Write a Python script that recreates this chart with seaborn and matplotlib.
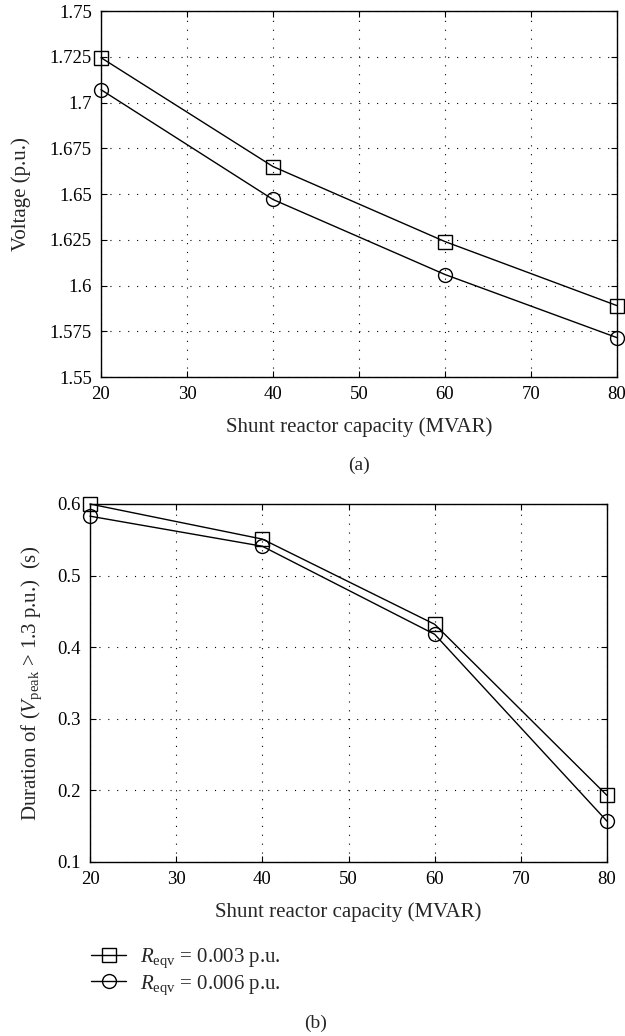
import matplotlib
matplotlib.use("Agg")
import matplotlib.pyplot as plt
import seaborn as sns
import pandas as pd

# datos
capacidad = [20, 40, 60, 80]
voltaje_003 = [1.7245, 1.665, 1.624, 1.589]
voltaje_006 = [1.707, 1.647, 1.606, 1.5715]
duracion_003 = [0.600, 0.551, 0.432, 0.193]
duracion_006 = [0.583, 0.541, 0.418, 0.157]
lab1 = r"$R_{\mathrm{eqv}}$ = 0.003 p.u."
lab2 = r"$R_{\mathrm{eqv}}$ = 0.006 p.u."

dfa = pd.DataFrame({"cap": capacidad * 2, "val": voltaje_003 + voltaje_006,
                    "serie": [lab1] * 4 + [lab2] * 4})
dfb = pd.DataFrame({"cap": capacidad * 2, "val": duracion_003 + duracion_006,
                    "serie": [lab1] * 4 + [lab2] * 4})

sns.set_style("ticks")
plt.rcParams['font.family'] = ['Liberation Serif', 'DejaVu Serif']
plt.rcParams['mathtext.fontset'] = 'custom'
plt.rcParams['mathtext.rm'] = 'Liberation Serif'
plt.rcParams['mathtext.it'] = 'Liberation Serif:italic'

W, H = 625, 1036
fig = plt.figure(figsize=(6.25, 10.36), dpi=100)
ax1 = fig.add_axes([101 / W, 1 - 377 / H, 516 / W, 366 / H])
ax2 = fig.add_axes([90 / W, 1 - 862 / H, 517 / W, 358 / H])

kw = dict(x="cap", y="val", style="serie", markers={lab1: "s", lab2: "o"},
          dashes=False, color="k", lw=1.0, markersize=10,
          markerfacecolor="none", markeredgecolor="k", markeredgewidth=1.0)

sns.lineplot(data=dfa, ax=ax1, legend=False, **kw)
sns.lineplot(data=dfb, ax=ax2, **kw)

for ax in (ax1, ax2):
    ax.set_xlim(20, 80)
    ax.set_xticks([20, 30, 40, 50, 60, 70, 80])
    ax.grid(True, color="k", linestyle=(0, (1, 7)), linewidth=0.8)
    ax.tick_params(direction="in", top=True, right=True, length=4.5, width=0.8,
                   labelsize=13.5, pad=6.5, colors="k")
    for s in ax.spines.values():
        s.set_linewidth(1.0)
        s.set_color("k")
    ax.set_xlabel("Shunt reactor capacity (MVAR)", fontsize=15)
    for l in ax.lines:
        l.set_clip_on(False)

ax1.set_ylim(1.55, 1.75)
ax1.set_yticks([1.55, 1.575, 1.6, 1.625, 1.65, 1.675, 1.7, 1.725, 1.75])
ax1.set_yticklabels(["1.55", "1.575", "1.6", "1.625", "1.65", "1.675", "1.7", "1.725", "1.75"])
ax1.set_ylabel("Voltage (p.u.)", fontsize=15)
ax1.yaxis.set_label_coords((21 - 101) / 516, 0.5)
ax1.yaxis.label.set_va("center")
ax1.xaxis.set_label_coords(0.5, (377 - 427) / 366)
ax1.xaxis.label.set_va("center")

ax2.set_ylim(0.1, 0.6)
ax2.set_yticks([0.1, 0.2, 0.3, 0.4, 0.5, 0.6])
ax2.set_yticklabels(["0.1", "0.2", "0.3", "0.4", "0.5", "0.6"])
ax2.set_ylabel(r"Duration of ($V_{\mathrm{peak}}$ > 1.3 p.u.)  (s)", fontsize=15)
ax2.yaxis.set_label_coords((32 - 90) / 517, 0.5)
ax2.yaxis.label.set_va("center")
ax2.xaxis.set_label_coords(0.5, (862 - 912) / 358)
ax2.xaxis.label.set_va("center")

h, l = ax2.get_legend_handles_labels()
ax2.legend(h, l, loc="center left", bbox_to_anchor=(91 / W, 1 - 971.5 / H),
           bbox_transform=fig.transFigure, frameon=False, fontsize=15,
           handlelength=1.7, handletextpad=0.67, labelspacing=0.15,
           borderpad=0, borderaxespad=0)

fig.text(359 / W, 1 - 465 / H, "(a)", ha="center", va="center", fontsize=14)
fig.text(316 / W, 1 - 1023 / H, "(b)", ha="center", va="center", fontsize=14)

fig.savefig("out.png", dpi=100)
